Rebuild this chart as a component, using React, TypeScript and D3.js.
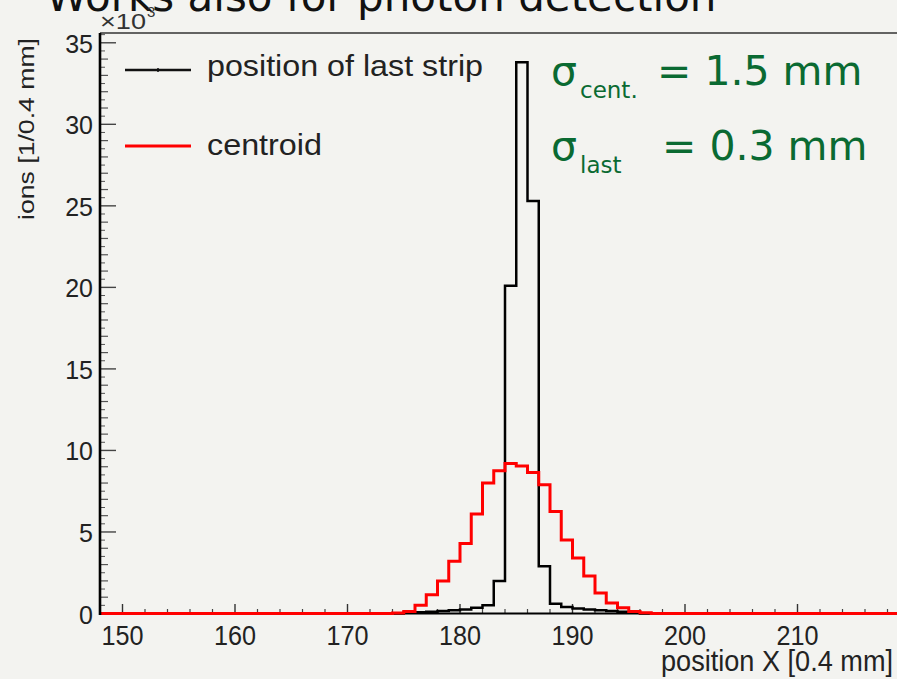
import React from "react";
import * as d3 from "d3";

// ---- data ----
const binStart = 148; // left edge of first bin, unit: position X [0.4 mm]
const lastStrip = [
  0, 0, 0, 0, 0, 0, 0, 0, 0, 0, 0, 0, 0, 0, 0, 0, 0, 0, 0, 0, 0, 0, 0, 0, 0, 0, 0,
  0.05, 0.08, 0.1, 0.15, 0.2, 0.25, 0.35, 0.5, 2.0, 20.1, 33.8, 25.3, 2.9, 0.6, 0.4, 0.3, 0.25, 0.2, 0.15, 0.1, 0.05,
  0, 0, 0, 0, 0, 0, 0, 0, 0, 0, 0, 0, 0, 0, 0, 0, 0, 0, 0, 0, 0, 0, 0, 0,
];
const centroid = [
  0, 0, 0, 0, 0, 0, 0, 0, 0, 0, 0, 0, 0, 0, 0, 0, 0, 0, 0, 0, 0, 0, 0, 0, 0, 0,
  0.03, 0.12, 0.5, 1.15, 2.0, 3.2, 4.3, 6.1, 8.0, 8.75, 9.2, 9.05, 8.65, 7.9, 6.25, 4.5, 3.4, 2.3, 1.25, 0.65, 0.35, 0.12, 0.05,
  0, 0, 0, 0, 0, 0, 0, 0, 0, 0, 0, 0, 0, 0, 0, 0, 0, 0, 0, 0, 0, 0, 0,
];
const xTickLabels = [150, 160, 170, 180, 190, 200, 210];
const yTickLabels = [0, 5, 10, 15, 20, 25, 30, 35];
const legendLabels = ["position of last strip", "centroid"];
const titleText = "Works also for photon detection";
const xTitle = "position X [0.4 mm]";
const yTitle = "ions [1/0.4 mm]";

const W = 897;
const H = 679;
const ROOT_FONT = "'Liberation Sans', Arial, Helvetica, sans-serif";
const DV_FONT = "'DejaVu Sans', Verdana, sans-serif";
const GREEN = "#0a6a32";

export default function App() {
  const x = d3.scaleLinear().domain([148, 220]).range([100, 910]);
  const y = d3.scaleLinear().domain([0, 35.6]).range([613.5, 33]);

  const stepPath = (vals: number[]) => {
    const pts: [number, number][] = vals.map((v, i) => [binStart + i, v]);
    pts.push([binStart + vals.length, vals[vals.length - 1]]);
    return d3
      .line<[number, number]>()
      .x((d) => x(d[0]))
      .y((d) => y(d[1]))
      .curve(d3.curveStepAfter)(pts) as string;
  };

  const xMinor = d3.range(148, 221, 2).filter((v) => v % 10 !== 0);
  const yHalf = d3.range(0, 35.51, 0.5).filter((v) => v % 1 !== 0);
  const yUnit = d3.range(0, 35.51, 1).filter((v) => v % 5 !== 0);

  return (
    <svg
      width={W}
      height={H}
      style={{ position: "absolute", left: 0, top: 0, background: "#f3f3f0" }}
    >
      <rect x={0} y={0} width={W} height={H} fill="#f3f3f0" />
      <defs>
        <clipPath id="plot">
          <rect x={100} y={33} width={820} height={590} />
        </clipPath>
      </defs>

      {/* title (cut off at top) */}
      <text x={46} y={11} fontFamily={DV_FONT} fontSize={42} fill="#111">
        {titleText}
      </text>

      {/* frame top */}
      <line x1={100} x2={W} y1={33} y2={33} stroke="#333" strokeWidth={1.6} />

      {/* y ticks */}
      {yHalf.map((v) => (
        <line key={"yh" + v} x1={100} x2={105} y1={y(v)} y2={y(v)} stroke="#555" strokeWidth={1} />
      ))}
      {yUnit.map((v) => (
        <line key={"yu" + v} x1={100} x2={108} y1={y(v)} y2={y(v)} stroke="#555" strokeWidth={1.2} />
      ))}
      {yTickLabels.map((v) => (
        <g key={"yt" + v}>
          <line x1={100} x2={116} y1={y(v)} y2={y(v)} stroke="#444" strokeWidth={1.4} />
          <text
            x={93}
            y={y(v) + 10}
            textAnchor="end"
            fontFamily={ROOT_FONT}
            fontSize={25}
            fill="#222"
          >
            {v}
          </text>
        </g>
      ))}

      {/* x ticks */}
      {xMinor.map((v) => (
        <line key={"xm" + v} x1={x(v)} x2={x(v)} y1={613.5} y2={609} stroke="#444" strokeWidth={1.2} />
      ))}
      {xTickLabels.map((v) => (
        <g key={"xt" + v}>
          <line x1={x(v)} x2={x(v)} y1={613.5} y2={604} stroke="#333" strokeWidth={1.4} />
          <text
            x={x(v)}
            y={645}
            textAnchor="middle"
            fontFamily={ROOT_FONT}
            fontSize={28}
            textLength={42}
            lengthAdjust="spacingAndGlyphs"
            fill="#222"
          >
            {v}
          </text>
        </g>
      ))}

      {/* x10^3 */}
      <text x={100} y={29} fontFamily={ROOT_FONT} fontSize={22} textLength={46} lengthAdjust="spacingAndGlyphs" fill="#333">
        ×10
      </text>
      <text x={147} y={17} fontFamily={ROOT_FONT} fontSize={15} fill="#333">
        3
      </text>

      {/* axis titles */}
      <text
        transform={`translate(34,38) rotate(-90)`}
        textAnchor="end"
        fontFamily={ROOT_FONT}
        fontSize={22}
        textLength={182}
        lengthAdjust="spacingAndGlyphs"
        fill="#222"
      >
        {yTitle}
      </text>
      <text
        x={893}
        y={671}
        textAnchor="end"
        fontFamily={ROOT_FONT}
        fontSize={29}
        textLength={232}
        lengthAdjust="spacingAndGlyphs"
        fill="#222"
      >
        {xTitle}
      </text>

      {/* histograms */}
      <g clipPath="url(#plot)" fill="none">
        <line x1={100} x2={W} y1={613.5} y2={613.5} stroke="#000" strokeWidth={2} />
        <path d={stepPath(lastStrip)} stroke="#000" strokeWidth={2.5} />
        <path d={stepPath(centroid)} stroke="#ff0000" strokeWidth={3} />
      </g>

      {/* y axis line */}
      <line x1={100} x2={100} y1={33} y2={615} stroke="#000" strokeWidth={2.6} />

      {/* legend */}
      <line x1={125} x2={191} y1={70} y2={70} stroke="#111" strokeWidth={2.5} />
      <line x1={158} x2={158} y1={68} y2={72} stroke="#111" strokeWidth={1.5} />
      <text x={207} y={76} fontFamily={ROOT_FONT} fontSize={29} textLength={276} lengthAdjust="spacingAndGlyphs" fill="#222">
        {legendLabels[0]}
      </text>
      <line x1={125} x2={191} y1={146} y2={146} stroke="#ff0000" strokeWidth={3} />
      <text x={207} y={155} fontFamily={ROOT_FONT} fontSize={29} textLength={115} lengthAdjust="spacingAndGlyphs" fill="#222">
        {legendLabels[1]}
      </text>

      {/* resolution annotations */}
      <g fontFamily={DV_FONT} fill={GREEN}>
        <text x={551} y={85} fontSize={41}>σ</text>
        <text x={580} y={98} fontSize={23}>cent.</text>
        <text x={657} y={85} fontSize={41}>= 1.5 mm</text>
        <text x={551} y={160} fontSize={41}>σ</text>
        <text x={580} y={173} fontSize={23}>last</text>
        <text x={662} y={160} fontSize={41}>= 0.3 mm</text>
      </g>
    </svg>
  );
}
